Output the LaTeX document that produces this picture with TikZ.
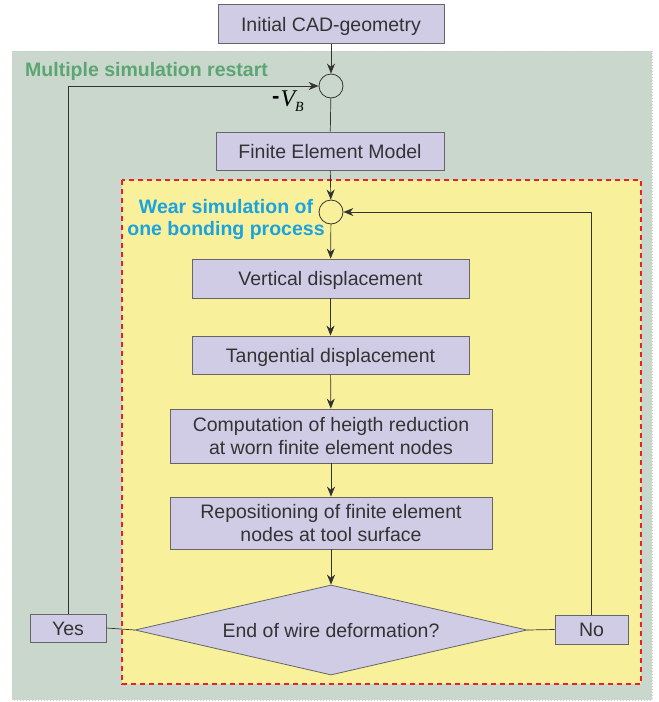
\documentclass[tikz,border=0pt]{standalone}
\usepackage{fontspec}
\setmainfont{Liberation Sans}
\newfontfamily\vbfont{Liberation Serif}
\usetikzlibrary{shapes.geometric,arrows.meta}
\definecolor{bggray}{HTML}{CAD7CD}
\definecolor{bgyellow}{HTML}{F8F09A}
\definecolor{boxfill}{HTML}{D0CCE6}
\definecolor{boxline}{HTML}{666666}
\definecolor{greentxt}{HTML}{5BA672}
\definecolor{bluetxt}{HTML}{1AA3DE}
\definecolor{reddash}{HTML}{E8202A}
\definecolor{lin}{HTML}{333333}
\begin{document}
\begin{tikzpicture}[x=1pt,y=-1pt,
  procbox/.style={draw=boxline,fill=boxfill,line width=0.8pt,inner sep=0pt,align=center,font=\fontsize{19.5}{23}\selectfont,text=black!80},
  oneline/.style={text height=14pt,text depth=0pt},
  sumcirc/.style={circle,draw=lin,line width=0.8pt,minimum size=24pt,inner sep=0pt},
  conn/.style={draw=lin,line width=0.7pt},
  arr/.style={conn,-{Stealth[length=10pt,width=8pt]}}]
\useasboundingbox (0,0) rectangle (659,702);
% regions
\path[fill=bggray,draw=black!20,dotted,line width=1pt] (12,51) rectangle (652,700);
\path[fill=bgyellow,draw=reddash,dashed,dash pattern=on 5pt off 4pt,line width=1.8pt] (122,180) rectangle (641,684);
% labels
\node[anchor=west,text=greentxt,font=\bfseries\fontsize{19.5}{22}\selectfont,inner sep=0pt] (lmulti) at (25,71) {Multiple simulation restart};
\node[text=bluetxt,font=\bfseries\fontsize{19.5}{22}\selectfont,align=center,inner sep=0pt] (lwear) at (226,219) {Wear simulation of\\one bonding process};
% nodes
\node[procbox,oneline,minimum width=226pt,minimum height=39pt] (cad) at (331,24) {Initial CAD-geometry};
\node[sumcirc] (s1) at (331,86) {};
\node[inner sep=0pt] (vb) at (288,101) {\raisebox{3pt}{\bfseries\fontsize{22}{22}\selectfont -}\hspace{1pt}{\vbfont\itshape\fontsize{24}{24}\selectfont V\raisebox{-5pt}{\fontsize{14}{14}\selectfont B}}};
\node[procbox,oneline,minimum width=228pt,minimum height=38pt] (fem) at (330,151) {Finite Element Model};
\node[sumcirc] (s2) at (331,212) {};
\node[procbox,oneline,minimum width=277pt,minimum height=39pt] (vert) at (330.5,278.5) {Vertical displacement};
\node[procbox,oneline,minimum width=277pt,minimum height=38pt] (tang) at (330.5,355) {Tangential displacement};
\node[procbox,minimum width=322pt,minimum height=54pt] (comp) at (331,436) {Computation of heigth reduction\\at worn finite element nodes};
\node[procbox,minimum width=322pt,minimum height=52pt] (repo) at (331,523) {Repositioning of finite element\\nodes at tool surface};
\node[diamond,draw=boxline,fill=boxfill,line width=0.8pt,aspect=4.35,minimum width=392pt,minimum height=90pt,inner sep=0pt,font=\fontsize{19.5}{23}\selectfont,text=black!80,oneline] (dec) at (331,630) {End of wire deformation?};
\node[procbox,oneline,minimum width=76pt,minimum height=28pt] (yes) at (68,628) {Yes};
\node[procbox,oneline,minimum width=73pt,minimum height=29pt] (no) at (591.5,629.5) {No};
% connectors
\draw[arr] (cad) -- (s1);
\draw[conn] (s1) -- (fem);
\draw[arr] (fem) -- (s2);
\draw[arr] (s2) -- (vert);
\draw[arr] (vert) -- (tang);
\draw[arr] (tang) -- (comp);
\draw[arr] (comp) -- (repo);
\draw[arr] (repo) -- (dec);
\draw[conn] (dec.west) -- (yes.east);
\draw[conn] (dec.east) -- (no.west);
\draw[arr] (yes.north) |- (s1.west);
\draw[arr] (no.north) |- (s2.east);
\end{tikzpicture}
\end{document}
